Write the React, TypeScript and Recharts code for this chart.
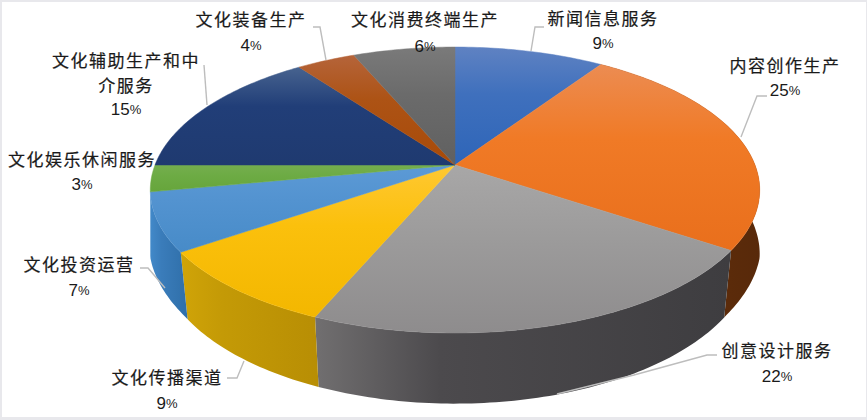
import React from 'react';
import { PieChart, Pie } from 'recharts';

const CATEGORIES = [
  ['新闻信息服务'],
  ['内容创作生产'],
  ['创意设计服务'],
  ['文化传播渠道'],
  ['文化投资运营'],
  ['文化娱乐休闲服务'],
  ['文化辅助生产和中', '介服务'],
  ['文化装备生产'],
  ['文化消费终端生产'],
];
// the labels show them rounded
const VALUES = [9.4, 25, 22, 9, 6.6, 3, 14.9, 3.7, 6.4];

// light -> mid -> dark, top to bottom of each slice
const TOP_COLORS = [
  ['#5f82c2', '#3f70bd', '#2e65b8'],
  ['#ec8c52', '#f07a26', '#e96f1c'],
  ['#a8a7a7', '#9d9c9c', '#8e8c8d'],
  ['#ffc832', '#fbc00c', '#f3b700'],
  ['#5c9ad6', '#5393d0', '#478bc8'],
  ['#74ae4e', '#6dab44', '#66a53b'],
  ['#47638f', '#213e78', '#1f3a70'],
  ['#b5643a', '#ad5315', '#a84a08'],
  ['#7a7a7a', '#6b6b6b', '#606060'],
];
// left -> right along the rim
const SIDE_COLORS = [
  ['#24497f', '#24497f', '#24497f'],
  ['#6b3208', '#63300a', '#58290a'],
  ['#716f70', '#4c4a4d', '#3e3d40'],
  ['#d0a408', '#c49a06', '#b88e04'],
  ['#4289c9', '#3a7cba', '#2f6fa9'],
  ['#4a7a2c', '#4a7a2c', '#4a7a2c'],
  ['#142a55', '#142a55', '#142a55'],
  ['#6b3208', '#6b3208', '#6b3208'],
  ['#444444', '#444444', '#444444'],
];

const LABEL_POS = [
  { x: 603, y: 17, pctY: 43, line: '544,27 535,27 531,51' },
  { x: 785, y: 64, pctY: 90, line: '767,96 757,96 741,137' },
  { x: 777, y: 349, pctY: 376, line: '717,355 707,355 634,375 557,394' },
  { x: 167, y: 376, pctY: 403, line: '227,378 237,378 244,361' },
  { x: 79, y: 263, pctY: 290, line: '140,268 148,268 165,288' },
  { x: 82, y: 158, pctY: 184, line: '' },
  { x: 126, y: 59, pctY: 109, line: '204,65 207,105' },
  { x: 251, y: 18, pctY: 45, line: '313,27 320,27 326,60' },
  { x: 425, y: 18, pctY: 46, line: '' },
];

const tableData = VALUES.map((value, i) => ({ name: CATEGORIES[i].join(''), value }));

const CJK = '"Noto Sans CJK SC", sans-serif';

// circle -> perspective ellipse. k is the tilt, yr the vertical scale
function project(cx: number, cy: number, rx: number, yr: number, k: number, deg: number) {
  const a = (deg * Math.PI) / 180;
  const u = Math.cos(a);
  const v = -Math.sin(a);
  const d = 1 - k * v;
  return [cx + (rx * u) / d, cy + (yr * v) / d];
}

function arcPoints(cx: number, cy: number, rx: number, yr: number, k: number, a0: number, a1: number) {
  const pts = [];
  const n = Math.max(2, Math.ceil(Math.abs(a1 - a0)));
  for (let i = 0; i <= n; i++) pts.push(project(cx, cy, rx, yr, k, a0 + ((a1 - a0) * i) / n));
  return pts;
}

// bottom rim: same as the top one but pulled in a little towards the front
function lowerRim(cx: number, cy: number, r: number, a0: number, a1: number) {
  const pts = [];
  const n = Math.max(2, Math.ceil(Math.abs(a1 - a0)));
  for (let i = 0; i <= n; i++) {
    const deg = a0 + ((a1 - a0) * i) / n;
    const v = -Math.sin((deg * Math.PI) / 180);
    const s = 1 - 0.025 * Math.min(1, Math.max(0, (v - 0.2) / 0.35));
    pts.push(project(cx, cy + 63, r * s, r * 0.483, 0.175, deg));
  }
  return pts;
}

const toPath = (pts: number[][]) =>
  'M' + pts.map((p) => p[0].toFixed(2) + ',' + p[1].toFixed(2)).join('L') + 'Z';

function TopSlice(props: any) {
  const { cx, cy, outerRadius: r, startAngle, endAngle, index } = props;
  const rim = arcPoints(cx, cy, r, r * 0.462, 0.175, startAngle, endAngle);
  const url = `url(#top-${index})`;
  return <path d={toPath([[cx, cy], ...rim])} fill={url} stroke={url} strokeWidth={0.5} />;
}

function SideSlice(props: any) {
  const { cx, cy, outerRadius: r, startAngle, endAngle, index } = props;
  const upper = arcPoints(cx, cy, r, r * 0.462, 0.175, startAngle, endAngle);
  // slices that never reach the front of the pie show no wall
  const reachesFront = upper.some((p) => p[1] > cy + 30);
  if (!reachesFront) return <g />;
  const lower = lowerRim(cx, cy, r, endAngle, startAngle);
  return <path d={toPath([...upper, ...lower])} fill={`url(#side-${index})`} />;
}

function SliceLabel(props: any) {
  const { index } = props;
  const pos = LABEL_POS[index];
  const lines = CATEGORIES[index];
  return (
    <g>
      {pos.line && <polyline points={pos.line} fill="none" stroke="#bdbdbd" strokeWidth={1.4} />}
      {lines.map((t, i) => (
        <text
          key={t}
          x={pos.x}
          y={pos.y + i * 25}
          textAnchor="middle"
          dominantBaseline="central"
          fontFamily={CJK}
          fontSize={17}
          letterSpacing={1.5}
          fill="#1a1a1a"
          stroke="#1a1a1a"
          strokeWidth={0.2}
        >
          {t}
        </text>
      ))}
      <text
        x={pos.x}
        y={pos.pctY}
        textAnchor="middle"
        dominantBaseline="central"
        fontFamily='"Liberation Sans", sans-serif'
        fontSize={17}
        fill="#1a1a1a"
      >
        {Math.round(VALUES[index])}
        <tspan fontSize={13}>%</tspan>
      </text>
    </g>
  );
}

export default function App() {
  return (
    <div style={{ position: 'absolute', left: 0, top: 0, width: 867, height: 420, background: '#e8e8ec' }}>
      <div style={{ position: 'absolute', left: 2, top: 2, width: 864, height: 415, background: '#ffffff' }} />
      <div style={{ position: 'absolute', left: 0, top: 0 }}>
        <PieChart width={867} height={420} margin={{ top: 0, right: 0, bottom: 0, left: 0 }}>
          <defs>
            {TOP_COLORS.map((c, i) => (
              <linearGradient key={i} id={`top-${i}`} x1="0" y1="0" x2="0" y2="1">
                <stop offset="0" stopColor={c[0]} />
                <stop offset="0.4" stopColor={c[1]} />
                <stop offset="1" stopColor={c[2]} />
              </linearGradient>
            ))}
            {SIDE_COLORS.map((c, i) => (
              <linearGradient key={i} id={`side-${i}`} x1="0" y1="0" x2="1" y2="0">
                <stop offset="0" stopColor={c[0]} />
                <stop offset="0.3" stopColor={c[1]} />
                <stop offset="1" stopColor={c[2]} />
              </linearGradient>
            ))}
          </defs>
          <Pie
            data={tableData}
            dataKey="value"
            nameKey="name"
            cx={455}
            cy={165}
            innerRadius={0}
            outerRadius={300}
            startAngle={90}
            endAngle={-270}
            paddingAngle={0}
            stroke="none"
            shape={SideSlice}
            isAnimationActive={false}
          />
          <Pie
            data={tableData}
            dataKey="value"
            nameKey="name"
            cx={455}
            cy={165}
            innerRadius={0}
            outerRadius={300}
            startAngle={90}
            endAngle={-270}
            paddingAngle={0}
            stroke="none"
            shape={TopSlice}
            label={SliceLabel}
            labelLine={false}
            isAnimationActive={false}
          />
        </PieChart>
      </div>
    </div>
  );
}
